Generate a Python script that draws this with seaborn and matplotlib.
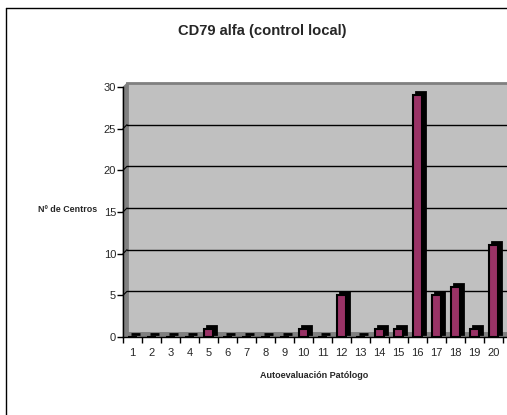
import matplotlib
matplotlib.use("Agg")
import matplotlib.pyplot as plt
import seaborn as sns
import pandas as pd
from matplotlib.patches import Polygon
from matplotlib.lines import Line2D
from matplotlib.transforms import ScaledTranslation

categories = [str(i) for i in range(1, 21)]
values = [0, 0, 0, 0, 1, 0, 0, 0, 0, 1, 0, 5, 0, 1, 1, 29, 5, 6, 1, 11]
y_ticks = [0, 5, 10, 15, 20, 25, 30]
title = "CD79 alfa (control local)"
x_title = "Autoevaluación Patólogo"
y_title = "Nº de Centros"

sns.set_theme(style="white")
plt.rcParams['font.family'] = ['Liberation Sans', 'DejaVu Sans']

df = pd.DataFrame({"cat": categories, "val": values})

W, H, DPI = 507, 415, 100
fig = plt.figure(figsize=(W / DPI, H / DPI), dpi=DPI)
fig.patch.set_facecolor("white")

x0_px, y0_px, y30_px = 123, 337, 87
ax = fig.add_axes([x0_px / W, (H - y0_px) / H, (W - x0_px) / W, (y0_px - y30_px) / H])
ax.set_facecolor("none")
step_px = 19.0
xlim = (-0.5, -0.5 + (W - x0_px) / step_px)

# 3D walls
d = 4.0
dx = d / step_px
dy = d / ((y0_px - y30_px) / 30.0)
xr = 25
ax.add_patch(Polygon([(-0.5 + dx, dy), (xr, dy), (xr, 30 + dy), (-0.5 + dx, 30 + dy)],
                     closed=True, fc="#C0C0C0", ec="#808080", lw=2, clip_on=False, zorder=0))
ax.add_patch(Polygon([(-0.5, 0), (-0.5, 30), (-0.5 + dx, 30 + dy), (-0.5 + dx, dy)],
                     closed=True, fc="#808080", ec="#808080", lw=0.5, clip_on=False, zorder=0.5))
ax.add_patch(Polygon([(-0.5, 0), (xr, 0), (xr + dx, dy), (-0.5 + dx, dy)],
                     closed=True, fc="#808080", ec="#808080", lw=0.5, clip_on=False, zorder=0.5))
for yv in y_ticks[1:-1]:
    ax.plot([-0.5 + dx, xr], [yv + dy, yv + dy], color="black", lw=1, zorder=0.8, clip_on=False)
    ax.plot([-0.5, -0.5 + dx], [yv, yv + dy], color="black", lw=0.8, zorder=0.8, clip_on=False)
n_before = len(ax.patches)

# shadow (depth) bars
sns.barplot(data=df, x="cat", y="val", order=categories, color="black", saturation=1,
            width=0.45, edgecolor="black", linewidth=2, ax=ax, zorder=2)
shift = ScaledTranslation(0.03, 0.03, fig.dpi_scale_trans)
for p in ax.patches[n_before:]:
    p.set_transform(ax.transData + shift)
    p.set_clip_on(False)
# front bars
sns.barplot(data=df, x="cat", y="val", order=categories, color="#993366", saturation=1,
            width=0.45, edgecolor="black", linewidth=1.5, ax=ax, zorder=3)
ax.set_xlim(*xlim)
ax.set_ylim(0, 30)

# ticks
ax.set_xticks([i - 0.5 for i in range(0, 21)])
ax.set_xticklabels([])
ax.set_xticks(range(20), minor=True)
ax.set_xticklabels(categories, minor=True, fontsize=8)
ax.tick_params(axis="x", which="major", direction="out", length=4, width=1, color="black", bottom=True)
ax.tick_params(axis="x", which="minor", length=0, pad=8, bottom=True)
ax.set_yticks(y_ticks)
ax.set_yticklabels([str(v) for v in y_ticks], fontsize=8)
ax.tick_params(axis="y", direction="out", length=4, width=1, color="black", left=True, pad=1)
for s in ["top", "right"]:
    ax.spines[s].set_visible(False)
for s in ["left", "bottom"]:
    ax.spines[s].set_color("black")
    ax.spines[s].set_linewidth(1)
    ax.spines[s].set_zorder(5)
ax.set_xlabel("")
ax.set_ylabel("")
ax.grid(False)

fig.text(262 / W, 1 - 31 / H, title, ha="center", va="center", fontsize=10.6, fontweight="bold")
fig.text(68 / W, 1 - 210 / H, y_title, ha="center", va="center", fontsize=6.4, fontweight="bold")
fig.text(314 / W, 1 - 375 / H, x_title, ha="center", va="center", fontsize=6.5, fontweight="bold")

fig.add_artist(Line2D([6 / W, 6 / W], [0, 1 - 8 / H], color="black", lw=1, transform=fig.transFigure))
fig.add_artist(Line2D([6 / W, 1], [1 - 8 / H, 1 - 8 / H], color="black", lw=1, transform=fig.transFigure))

fig.savefig("out.png", dpi=DPI)
